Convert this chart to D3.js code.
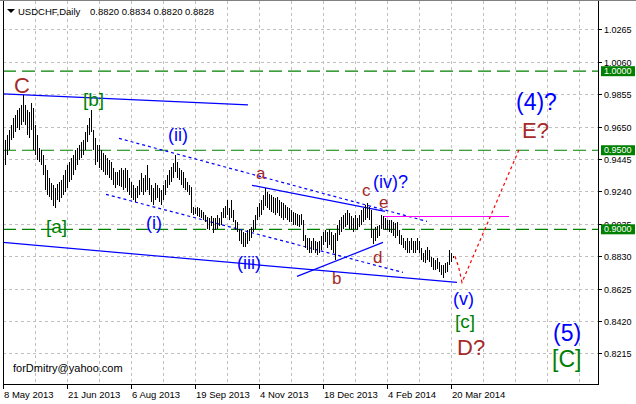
<!DOCTYPE html>
<html><head><meta charset="utf-8">
<script src="https://cdn.jsdelivr.net/npm/d3@7"></script>
<style>
html,body{margin:0;padding:0;background:#fff;}
svg{display:block;}
text{font-family:"Liberation Sans",Arial,sans-serif;}
</style></head><body>
<svg id="chart" width="636" height="404"></svg>
<script>
// ---------- data ----------
const highs = [0.9499,0.9562,0.9594,0.9626,0.9657,0.9702,0.9721,0.9752,0.9765,0.9784,
0.9847,0.9784,0.9752,0.9740,0.9797,0.9765,0.9657,0.9594,0.9512,0.9499,
0.9467,0.9404,0.9372,0.9322,0.9290,0.9278,0.9259,0.9284,0.9297,0.9309,
0.9341,0.9372,0.9404,0.9423,0.9448,0.9467,0.9499,0.9512,0.9531,0.9550,
0.9562,0.9613,0.9657,0.9702,0.9752,0.9626,0.9575,0.9531,0.9531,0.9499,
0.9480,0.9467,0.9448,0.9436,0.9423,0.9385,0.9360,0.9360,0.9372,0.9385,
0.9372,0.9385,0.9372,0.9322,0.9297,0.9278,0.9259,0.9271,0.9309,0.9354,
0.9322,0.9341,0.9404,0.9322,0.9278,0.9259,0.9290,0.9278,0.9259,0.9246,
0.9278,0.9309,0.9341,0.9372,0.9392,0.9417,0.9467,0.9423,0.9385,0.9372,
0.9360,0.9322,0.9297,0.9278,0.9265,0.9138,0.9132,0.9138,0.9132,0.9119,
0.9107,0.9088,0.9075,0.9069,0.9081,0.9069,0.9069,0.9088,0.9069,0.9107,
0.9132,0.9145,0.9183,0.9132,0.9183,0.9119,0.9056,0.9043,0.9005,0.8993,
0.8980,0.8974,0.8993,0.9005,0.9012,0.9056,0.9088,0.9138,0.9164,0.9183,
0.9214,0.9259,0.9233,0.9221,0.9214,0.9202,0.9195,0.9202,0.9183,0.9170,
0.9164,0.9151,0.9138,0.9132,0.9119,0.9107,0.9100,0.9094,0.9088,0.9094,
0.9056,0.8961,0.8948,0.8942,0.8929,0.8942,0.8929,0.8917,0.8929,0.8955,
0.8980,0.8993,0.8980,0.9005,0.8980,0.8961,0.8974,0.9024,0.9056,0.9075,
0.9088,0.9100,0.9119,0.9100,0.9081,0.9069,0.9088,0.9069,0.9088,0.9119,
0.9132,0.9151,0.9164,0.9138,0.9119,0.9005,0.9012,0.9018,0.9024,0.9088,
0.9081,0.9069,0.9056,0.9056,0.9056,0.9043,0.9037,0.9043,0.8993,0.8961,
0.8942,0.8929,0.8942,0.8929,0.8942,0.8929,0.8929,0.8942,0.8929,0.8879,
0.8853,0.8866,0.8885,0.8866,0.8822,0.8816,0.8803,0.8816,0.8790,0.8771,
0.8771,0.8784,0.8790,0.8866,0.8853,0.8834];
const lows = [0.9328,0.9404,0.9467,0.9499,0.9562,0.9575,0.9613,0.9638,0.9626,0.9657,
0.9676,0.9657,0.9594,0.9575,0.9626,0.9499,0.9467,0.9436,0.9423,0.9404,
0.9341,0.9246,0.9214,0.9202,0.9183,0.9145,0.9132,0.9183,0.9170,0.9195,
0.9214,0.9233,0.9259,0.9297,0.9309,0.9341,0.9372,0.9404,0.9436,0.9448,
0.9467,0.9499,0.9550,0.9594,0.9613,0.9499,0.9404,0.9423,0.9385,0.9372,
0.9360,0.9341,0.9341,0.9322,0.9309,0.9278,0.9259,0.9278,0.9271,0.9265,
0.9246,0.9259,0.9233,0.9214,0.9195,0.9183,0.9170,0.9195,0.9214,0.9233,
0.9214,0.9233,0.9246,0.9214,0.9170,0.9151,0.9183,0.9195,0.9170,0.9151,
0.9183,0.9214,0.9259,0.9278,0.9297,0.9322,0.9360,0.9322,0.9309,0.9278,
0.9259,0.9246,0.9233,0.9214,0.9100,0.9088,0.9094,0.9081,0.9075,0.9069,
0.9056,0.9043,0.9005,0.8993,0.9018,0.8974,0.8993,0.9005,0.9018,0.9024,
0.9069,0.9069,0.9088,0.9056,0.9069,0.9043,0.8993,0.8980,0.8929,0.8910,
0.8885,0.8885,0.8910,0.8929,0.8942,0.8980,0.9005,0.9056,0.9075,0.9088,
0.9119,0.9145,0.9132,0.9119,0.9107,0.9100,0.9088,0.9100,0.9081,0.9069,
0.9056,0.9069,0.9056,0.9043,0.9043,0.9024,0.9024,0.9018,0.9012,0.9024,
0.8929,0.8879,0.8866,0.8853,0.8847,0.8866,0.8847,0.8835,0.8853,0.8866,
0.8898,0.8917,0.8879,0.8898,0.8866,0.8853,0.8803,0.8929,0.8961,0.8980,
0.9005,0.9012,0.9024,0.9005,0.8993,0.8980,0.9005,0.8993,0.9012,0.9024,
0.9043,0.9056,0.9069,0.9056,0.8948,0.8910,0.8929,0.8942,0.8955,0.9005,
0.9005,0.8993,0.8993,0.8980,0.8974,0.8955,0.8942,0.8955,0.8910,0.8898,
0.8879,0.8866,0.8853,0.8853,0.8866,0.8847,0.8853,0.8866,0.8853,0.8803,
0.8790,0.8784,0.8803,0.8790,0.8759,0.8740,0.8740,0.8752,0.8727,0.8708,
0.8695,0.8721,0.8727,0.8771,0.8790,0.8820];
const xTickIndex = [0,32,64,96,128,160,192,224];
const xTickLabels = ["8 May 2013","21 Jun 2013","6 Aug 2013","19 Sep 2013","4 Nov 2013","18 Dec 2013","4 Feb 2014","20 Mar 2014"];
const yTickValues = [1.0265,1.0060,0.9855,0.9650,0.9445,0.9240,0.9035,0.8830,0.8625,0.8420,0.8215];
const levelValues = [1.0000,0.9500,0.9000];
const symbolName = "USDCHF,Daily";
const lastQuote = ["0.8820","0.8834","0.8820","0.8828"];
// annotation geometry in (bar index, price)
const solidTrendLines = [
  [[-0.25,0.9857],[122.25,0.9787]],
  [[-0.25,0.8917],[226.75,0.8664]],
  [[124.25,0.9278],[190.75,0.9113]],
  [[146.75,0.8702],[189.75,0.8917]]
];
const dottedChannel = [
  [[57.75,0.9575],[211.75,0.9050]],
  [[51.25,0.9221],[199.75,0.8727]]
];
const resistanceLine = [[189.75,0.9081],[252.75,0.9081]];
const projectionPath = [[225.75,0.8828],[227.5,0.8765],[229.25,0.8664],[258.25,0.9518]];
const waveLabels = [
  {t:"C",i:5.25,p:0.9860,k:"brownBig"},
  {t:"[b]",i:39.75,p:0.9778,k:"green"},
  {t:"[a]",i:21.25,p:0.8974,k:"green"},
  {t:"(ii)",i:82.25,p:0.9556,k:"blue"},
  {t:"(i)",i:71.25,p:0.9005,k:"blue"},
  {t:"(iii)",i:116.75,p:0.8752,k:"blue"},
  {t:"a",i:126.25,p:0.9316,k:"brown"},
  {t:"b",i:164.25,p:0.8657,k:"brown"},
  {t:"c",i:179.25,p:0.9208,k:"brown"},
  {t:"d",i:184.75,p:0.8784,k:"brown"},
  {t:"e",i:187.75,p:0.9132,k:"brown"},
  {t:"(iv)?",i:184.75,p:0.9259,k:"blue"},
  {t:"(v)",i:224.75,p:0.8524,k:"blue"},
  {t:"[c]",i:225.75,p:0.8373,k:"green"},
  {t:"D?",i:226.75,p:0.8202,k:"brownBig"},
  {t:"(4)?",i:256.25,p:0.9752,k:"blueBig"},
  {t:"E?",i:259.25,p:0.9575,k:"brownBig"},
  {t:"(5)",i:274.75,p:0.8293,k:"blueBig"},
  {t:"[C]",i:274.25,p:0.8126,k:"greenBig"}
];
const signature = "forDmitry@yahoo.com";

// ---------- styles ----------
const labelStyle = {
  brown:{fill:"#a52a2a",size:17}, brownBig:{fill:"#a52a2a",size:22},
  blue:{fill:"#0000ff",size:18}, blueBig:{fill:"#0000ff",size:23},
  green:{fill:"#008000",size:19}, greenBig:{fill:"#008000",size:23}
};

// ---------- scales ----------
const L = 3, R = 598, B = 384;
const x = d3.scaleLinear().domain([0, 297]).range([3.5, 597.5]);
const y = d3.scaleLinear().domain([0.8215, 1.0265]).range([353.4, 29.3]);

const svg = d3.select("#chart");
svg.append("rect").attr("width",636).attr("height",404).attr("fill","#fff");

// grid
const gridG = svg.append("g").attr("stroke","#c0c0c0").attr("stroke-dasharray","3,3").attr("shape-rendering","crispEdges");
yTickValues.forEach(v => {
  const yy = Math.round(y(v)) + 0.5;
  gridG.append("line").attr("x1",L).attr("x2",R).attr("y1",yy).attr("y2",yy);
});
d3.range(16, 297, 16).forEach(i => {
  const xx = Math.floor(x(i)) + 0.5;
  gridG.append("line").attr("x1",xx).attr("x2",xx).attr("y1",1).attr("y2",B);
});

// level lines
const lvl = svg.append("g");
levelValues.forEach(v => {
  lvl.append("line").attr("x1",L).attr("x2",R).attr("y1",y(v)).attr("y2",y(v))
    .attr("stroke","#008000").attr("stroke-width",1.2).attr("stroke-dasharray","13,6");
});

// trend lines
const line = d3.line().x(d => x(d[0])).y(d => y(d[1]));
solidTrendLines.forEach(seg => svg.append("path").attr("d", line(seg)).attr("fill","none").attr("stroke","#0000ff").attr("stroke-width",1.2));
dottedChannel.forEach(seg => svg.append("path").attr("d", line(seg)).attr("fill","none").attr("stroke","#0000ff").attr("stroke-width",1.2).attr("stroke-dasharray","3,3"));
svg.append("path").attr("d", line(resistanceLine)).attr("fill","none").attr("stroke","#ff00ff").attr("stroke-width",1.2);

// bars
svg.append("g").selectAll("line").data(highs).join("line")
  .attr("x1",(d,i)=>x(i)).attr("x2",(d,i)=>x(i))
  .attr("y1",d=>y(d)).attr("y2",(d,i)=>y(lows[i]))
  .attr("stroke","#000").attr("stroke-width",1).attr("shape-rendering","crispEdges");

// projection
svg.append("path").attr("d", line(projectionPath)).attr("fill","none").attr("stroke","#ff0000").attr("stroke-width",1.2).attr("stroke-dasharray","3,3");

// wave labels
svg.append("g").selectAll("text").data(waveLabels).join("text")
  .attr("x",d=>x(d.i)).attr("y",d=>y(d.p))
  .attr("fill",d=>labelStyle[d.k].fill).attr("font-size",d=>labelStyle[d.k].size+"px")
  .text(d=>d.t);

// signature
svg.append("text").attr("x",13).attr("y",372).attr("font-size","11px").attr("fill","#000").text(signature);

// frame
const fr = svg.append("g").attr("stroke","#000").attr("shape-rendering","crispEdges");
fr.append("line").attr("x1",L+0.5).attr("x2",L+0.5).attr("y1",0).attr("y2",B+0.5);
fr.append("line").attr("x1",L).attr("x2",R+1).attr("y1",B+0.5).attr("y2",B+0.5);
fr.append("line").attr("x1",R+0.5).attr("x2",R+0.5).attr("y1",0).attr("y2",B+1);
svg.append("line").attr("x1",0).attr("x2",636).attr("y1",0.5).attr("y2",0.5).attr("stroke","#808080");

// y axis
const ya = svg.append("g");
yTickValues.forEach(v => {
  const yy = Math.round(y(v)) + 0.5;
  ya.append("line").attr("x1",R).attr("x2",R+4).attr("y1",yy).attr("y2",yy).attr("stroke","#000");
  ya.append("text").attr("x",R+6).attr("y",yy+3.2).attr("font-size","9px").attr("fill","#000").text(d3.format(".4f")(v));
});
levelValues.forEach(v => {
  const yy = y(v);
  ya.append("rect").attr("x",R+3).attr("y",yy-5).attr("width",34).attr("height",10).attr("fill","#008000");
  ya.append("text").attr("x",R+6).attr("y",yy+3.2).attr("font-size","9px").attr("fill","#fff").text(d3.format(".4f")(v));
});

// x axis
const xa = svg.append("g");
xTickIndex.forEach((ti, k) => {
  const xx = Math.floor(x(ti)) + 0.5;
  xa.append("line").attr("x1",xx).attr("x2",xx).attr("y1",B).attr("y2",B+5).attr("stroke","#000");
  xa.append("text").attr("x",xx+0.5).attr("y",397.5).attr("font-size","9.5px").attr("fill","#000").text(xTickLabels[k]);
});

// title
svg.append("path").attr("d","M7,9L15,9L11,13Z").attr("fill","#000");
svg.append("text").attr("x",18).attr("y",14.5).attr("font-size","9.5px").attr("fill","#000").text(symbolName);
svg.append("text").attr("x",90).attr("y",14.5).attr("font-size","9.5px").attr("fill","#000").text(lastQuote.join(" "));
</script>
</body></html>
